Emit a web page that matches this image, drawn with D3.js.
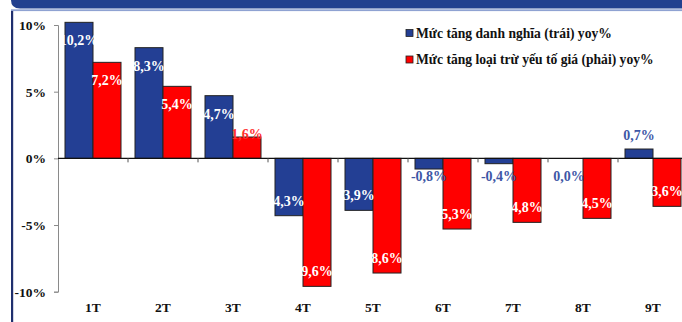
<!DOCTYPE html>
<html>
<head>
<meta charset="utf-8">
<script src="https://cdn.jsdelivr.net/npm/d3@7/dist/d3.min.js"></script>
<style>
  html, body { margin: 0; padding: 0; background: #fff; }
  svg { display: block; }
  text { font-family: "Liberation Serif", "Times New Roman", serif; font-weight: bold; }
</style>
</head>
<body>
<svg id="chart" width="682" height="322"></svg>
<script>
// Monthly growth, year on year (%)
const categories = ["1T", "2T", "3T", "4T", "5T", "6T", "7T", "8T", "9T"];
const nominalGrowth = [10.2, 8.3, 4.7, -4.3, -3.9, -0.8, -0.4, 0.0, 0.7];
const realGrowth = [7.2, 5.4, 1.6, -9.6, -8.6, -5.3, -4.8, -4.5, -3.6];
const seriesNames = [
  "Mức tăng danh nghĩa (trái) yoy%",
  "Mức tăng loại trừ yếu tố giá (phải) yoy%"
];
const yTicks = [10, 5, 0, -5, -10];

const BLUE = "#233f94";
const BLUE_LABEL = "#3d56a6";
const RED = "#ff0000";

const svg = d3.select("#chart");
const W = 682, H = 322;

// Frame: header band, thin light rule, left border
svg.append("path")
  .attr("d", "M11,0 L682,0 L682,8.5 L20,8.5 Q11,8.5 11,0 Z")
  .attr("fill", "#22408f");
svg.append("rect").attr("x", 11).attr("y", 9.3).attr("width", W - 11).attr("height", 1.8)
  .attr("fill", "#8fa2d2");
svg.append("rect").attr("x", 11).attr("y", 11).attr("width", 2.2).attr("height", H - 11)
  .attr("fill", "#1f2f6e");

// Plot area
const x0 = 58;
const band = 70;
const x = d3.scaleBand()
  .domain(categories)
  .range([x0, x0 + band * categories.length])
  .paddingInner(0.2)
  .paddingOuter(0.1);
const xg = d3.scaleBand().domain([0, 1]).range([0, x.bandwidth()]);

const y = d3.scaleLinear().domain([-10, 10]).range([291.7, 25]);

// Y axis
const yAxis = d3.axisLeft(y).tickValues(yTicks).tickSize(4).tickPadding(8)
  .tickFormat(d => d + "%");
const yg = svg.append("g").attr("transform", `translate(${x0},0)`).call(yAxis);
yg.select(".domain").attr("stroke", "#8a8a8a");
yg.selectAll(".tick line").attr("stroke", "#8a8a8a");
yg.selectAll(".tick text")
  .attr("font-size", 13.5).attr("fill", "#111")
  .style("font-family", "'Liberation Serif', serif").style("font-weight", "bold");

// Bars
const series = [
  { values: nominalGrowth, color: BLUE },
  { values: realGrowth, color: RED }
];

series.forEach((s, si) => {
  svg.append("g").selectAll("rect")
    .data(s.values.map((v, i) => ({ v, c: categories[i] })))
    .join("rect")
    .attr("x", d => x(d.c) + xg(si))
    .attr("width", xg.bandwidth())
    .attr("y", d => y(Math.max(0, d.v)))
    .attr("height", d => Math.abs(y(d.v) - y(0)))
    .attr("fill", s.color)
    .attr("stroke", "#222")
    .attr("stroke-width", 1);
});

// X axis (zero line) with ticks at category boundaries
svg.append("line")
  .attr("x1", x0).attr("x2", W).attr("y1", y(0)).attr("y2", y(0))
  .attr("stroke", "#111").attr("stroke-width", 1.3);
svg.append("g").selectAll("line")
  .data(categories.slice(1))
  .join("line")
  .attr("x1", d => x(d) - x.step() * x.paddingInner() / 2)
  .attr("x2", d => x(d) - x.step() * x.paddingInner() / 2)
  .attr("y1", y(0)).attr("y2", y(0) + 4)
  .attr("stroke", "#555");

// Category labels
svg.append("g").selectAll("text")
  .data(categories)
  .join("text")
  .attr("x", d => x(d) + x.bandwidth() / 2)
  .attr("y", 312)
  .attr("text-anchor", "middle")
  .attr("font-size", 13.5)
  .attr("fill", "#111")
  .text(d => d);

// Value labels
const fmt = v => v.toFixed(1).replace(".", ",") + "%";
series.forEach((s, si) => {
  svg.append("g").selectAll("text")
    .data(s.values.map((v, i) => ({ v, c: categories[i] })))
    .join("text")
    .attr("x", d => x(d.c) + xg(si) + xg.bandwidth() / 2)
    .attr("y", d => {
      const a = Math.abs(d.v);
      if (si === 0 && a < 1) return d.v > 0 ? y(d.v) - 14 : y(0) + 18;
      if (si === 1 && a < 2) return y(d.v) - 3;
      return d.v >= 0 ? y(d.v) + 18 : y(d.v) - 15;
    })
    .attr("dy", "0.35em")
    .attr("text-anchor", "middle")
    .attr("font-size", 14)
    .attr("fill", d => {
      const a = Math.abs(d.v);
      if (si === 0 && a < 1) return BLUE_LABEL;
      if (si === 1 && a < 2) return "#ff3030";
      return "#fff";
    })
    .text(d => (si === 1 ? "" : (d.v < 0 && Math.abs(d.v) < 1 ? "-" : "")) + fmt(Math.abs(d.v)));
});

// Legend
const legend = svg.append("g").attr("transform", "translate(406,0)");
series.forEach((s, si) => {
  const cy = 33 + si * 26.5;
  legend.append("rect")
    .attr("x", 0).attr("y", cy - 3.5).attr("width", 7).attr("height", 7)
    .attr("fill", s.color).attr("stroke", "#222").attr("stroke-width", 0.8);
  legend.append("text")
    .attr("x", 10).attr("y", cy).attr("dy", "0.35em")
    .attr("font-size", 13.6).attr("fill", "#111")
    .text(seriesNames[si]);
});
</script>
</body>
</html>
